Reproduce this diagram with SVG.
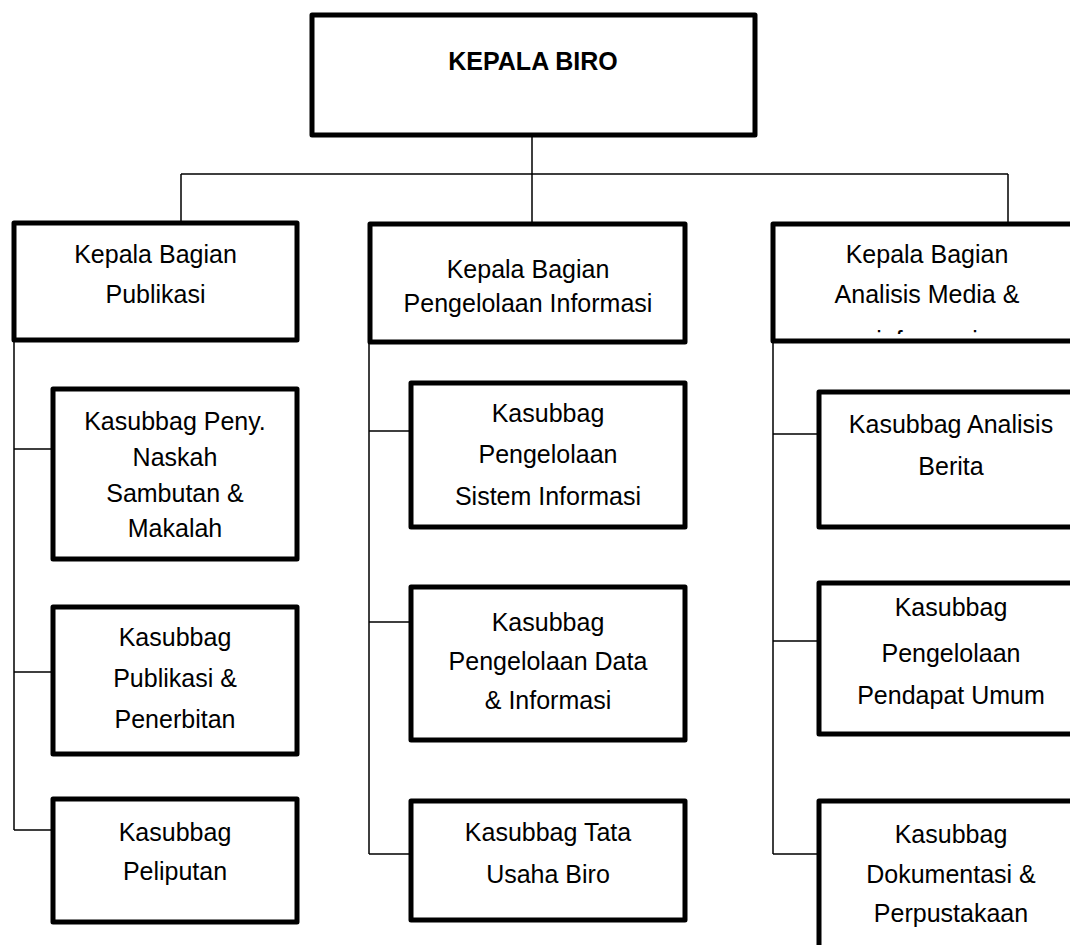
<svg xmlns="http://www.w3.org/2000/svg" width="1070" height="945" viewBox="0 0 1070 945">
<style>
.box{fill:#fff;stroke:#000;stroke-width:5;stroke-linejoin:round}
.con{fill:none;stroke:#000;stroke-width:1.5}
text{font-family:"Liberation Sans",Arial,sans-serif;font-size:25px;fill:#000;text-anchor:middle}
.b{font-weight:bold}
</style>
<defs>
<clipPath id="clipR"><rect x="775" y="226" width="300" height="108"/></clipPath>
</defs>
<rect width="1070" height="945" fill="#fff"/>
<g id="connectors">
<path class="con" d="M532 135V224M181 174H1008M181 174V223M1008 174V224"/>
<path class="con" d="M14 340V830M14 449H53M14 672H54M14 830H53"/>
<path class="con" d="M369 342V854M369 431H411M369 622H411M369 854H411"/>
<path class="con" d="M773 341V854M773 434H819M773 641H819M773 854H819"/>
</g>
<g id="kepala-biro">
<rect class="box" x="312" y="15" width="443" height="120"/>
<text class="b" x="533" y="70">KEPALA BIRO</text>
</g>
<g id="kabag-publikasi">
<rect class="box" x="14" y="223" width="283" height="117"/>
<text x="155.5" y="263">Kepala Bagian</text>
<text x="155.5" y="303">Publikasi</text>
</g>
<g id="kabag-pengelolaan">
<rect class="box" x="370" y="224" width="315" height="118"/>
<text x="528" y="278">Kepala Bagian</text>
<text x="528" y="312">Pengelolaan Informasi</text>
</g>
<g id="kabag-analisis">
<rect class="box" x="773" y="224" width="310" height="117"/>
<text x="927" y="263">Kepala Bagian</text>
<text x="927" y="303">Analisis Media &amp;</text>
<text x="927" y="349" clip-path="url(#clipR)">informasi</text>
</g>
<g id="kasubbag-naskah">
<rect class="box" x="53" y="389" width="244" height="170"/>
<text x="175" y="430">Kasubbag Peny.</text>
<text x="175" y="466">Naskah</text>
<text x="175" y="502">Sambutan &amp;</text>
<text x="175" y="537">Makalah</text>
</g>
<g id="kasubbag-publikasi">
<rect class="box" x="53" y="607" width="244" height="147"/>
<text x="175" y="646">Kasubbag</text>
<text x="175" y="687">Publikasi &amp;</text>
<text x="175" y="728">Penerbitan</text>
</g>
<g id="kasubbag-peliputan">
<rect class="box" x="53" y="799" width="244" height="123"/>
<text x="175" y="841">Kasubbag</text>
<text x="175" y="880">Peliputan</text>
</g>
<g id="kasubbag-sistem">
<rect class="box" x="411" y="383" width="274" height="144"/>
<text x="548" y="422">Kasubbag</text>
<text x="548" y="463">Pengelolaan</text>
<text x="548" y="505">Sistem Informasi</text>
</g>
<g id="kasubbag-data">
<rect class="box" x="411" y="587" width="274" height="153"/>
<text x="548" y="631">Kasubbag</text>
<text x="548" y="670">Pengelolaan Data</text>
<text x="548" y="709">&amp; Informasi</text>
</g>
<g id="kasubbag-tu">
<rect class="box" x="411" y="801" width="274" height="119"/>
<text x="548" y="841">Kasubbag Tata</text>
<text x="548" y="883">Usaha Biro</text>
</g>
<g id="kasubbag-berita">
<rect class="box" x="819" y="392" width="264" height="135"/>
<text x="951" y="433">Kasubbag Analisis</text>
<text x="951" y="475">Berita</text>
</g>
<g id="kasubbag-pendapat">
<rect class="box" x="819" y="583" width="264" height="151"/>
<text x="951" y="616">Kasubbag</text>
<text x="951" y="662">Pengelolaan</text>
<text x="951" y="704">Pendapat Umum</text>
</g>
<g id="kasubbag-dokumentasi">
<rect class="box" x="819" y="801" width="264" height="170"/>
<text x="951" y="843">Kasubbag</text>
<text x="951" y="883">Dokumentasi &amp;</text>
<text x="951" y="922">Perpustakaan</text>
</g>
</svg>
